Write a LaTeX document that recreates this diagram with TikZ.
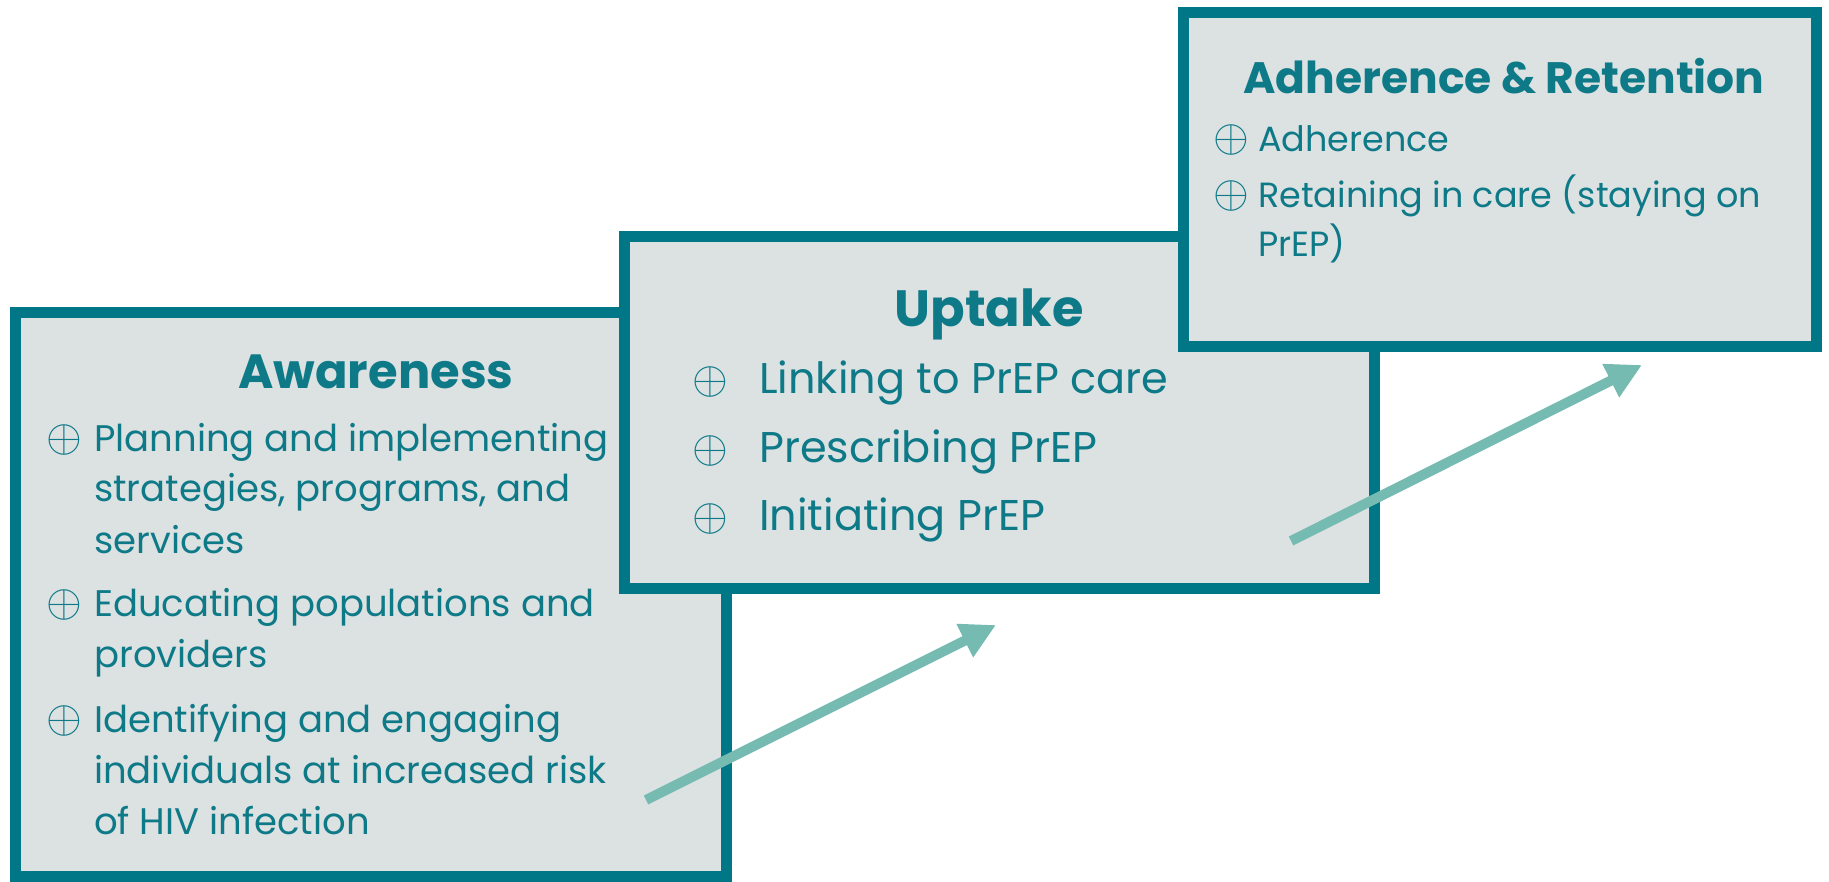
\documentclass[tikz,border=0pt]{standalone}
\usepackage{fontspec}
\setmainfont{Poppins}
\usepackage{graphicx}
\usepackage{tikz}
\usetikzlibrary{arrows.meta}

\definecolor{bordo}{RGB}{0,119,135}
\definecolor{sfondo}{RGB}{220,225,226}
\definecolor{testo}{RGB}{14,122,136}
\definecolor{verdeacqua}{RGB}{118,187,177}

% simbolo e voce di elenco
\newcommand{\bsym}{\scalebox{4.6}{\fontsize{10}{10}\selectfont$\oplus$}}
\newcommand{\bitem}[2][48pt]{\makebox[#1][l]{\bsym}\parbox[t]{700pt}{#2}}

\begin{document}
\begin{tikzpicture}[x=1pt, y=-1pt,
		riquadro/.style={draw=bordo, fill=sfondo, line width=11pt, rectangle, inner sep=0pt},
		titolo/.style={anchor=base, inner sep=0pt, text=testo},
		voce/.style={anchor=base west, inner sep=0pt, text=testo},
		passo/.style={draw=verdeacqua, line width=10pt, -{Triangle[length=35pt, width=35pt]}}]
		\useasboundingbox (0,0) rectangle (1829,882);
		
		% Awareness
		\node[riquadro, minimum width=711pt, minimum height=564pt] (aware) at (371,594.5) {};
		\node[titolo, font=\fontsize{48}{48}\selectfont\bfseries] (awareT) at (376,389) {Awareness};
		\node[voce, font=\fontsize{37}{51}\selectfont] (aware1) at (46,451) {\bitem{Planning and implementing\\strategies, programs, and\\services}};
		\node[voce, font=\fontsize{37}{51}\selectfont] (aware2) at (46,616) {\bitem{Educating populations and\\providers}};
		\node[voce, font=\fontsize{37}{51}\selectfont] (aware3) at (46,732) {\bitem{Identifying and engaging\\individuals at increased risk\\of HIV infection}};
		
		% Uptake
		\node[riquadro, minimum width=750pt, minimum height=352pt] (uptake) at (999.5,412.5) {};
		\node[titolo, font=\fontsize{51}{51}\selectfont\bfseries] (uptakeT) at (989,327) {Uptake};
		\node[voce, font=\fontsize{43}{51}\selectfont] (uptake1) at (692,394) {\bitem[67pt]{Linking to PrEP care}};
		\node[voce, font=\fontsize{43}{51}\selectfont] (uptake2) at (692,462) {\bitem[67pt]{Prescribing PrEP}};
		\node[voce, font=\fontsize{43}{51}\selectfont] (uptake3) at (692,530) {\bitem[67pt]{Initiating PrEP}};
		
		% Adherence & Retention
		\node[riquadro, minimum width=633pt, minimum height=334pt] (adhere) at (1500,179.5) {};
		\node[titolo, font=\fontsize{44}{44}\selectfont\bfseries] (adhereT) at (1504,94) {Adherence \& Retention};
		\node[voce, font=\fontsize{35}{49}\selectfont] (adhere1) at (1213,152) {\bitem[45pt]{Adherence}};
		\node[voce, font=\fontsize{35}{49}\selectfont] (adhere2) at (1213,208) {\bitem[45pt]{Retaining in care (staying on\\PrEP)}};
		
		% Frecce
		\coordinate (da1) at (646,800);
		\coordinate (a1) at (996,625);
		\coordinate (da2) at (1291,541);
		\coordinate (a2) at (1642,365);
		\draw[passo] (da1) -- (a1);
		\draw[passo] (da2) -- (a2);
	\end{tikzpicture}
\end{document}
